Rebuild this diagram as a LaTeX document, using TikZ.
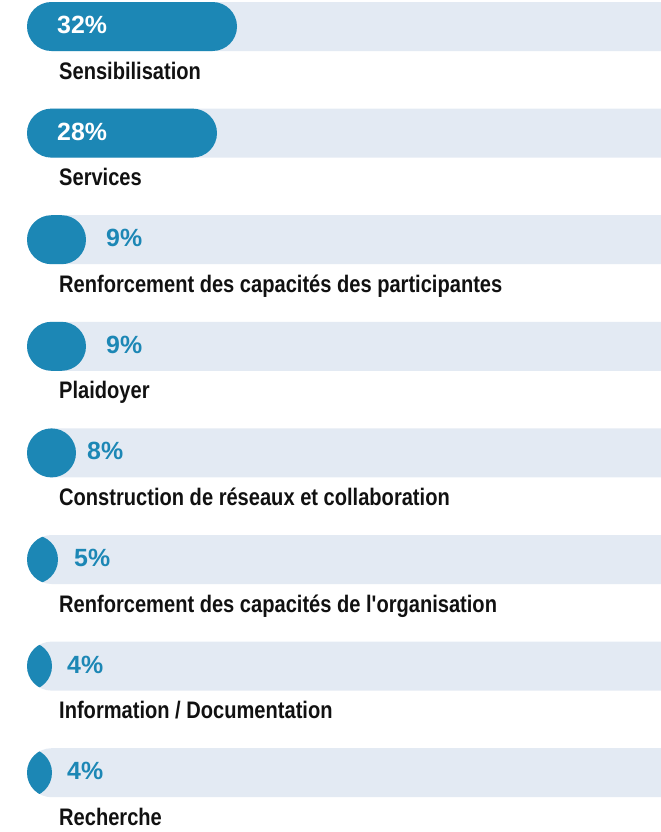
\documentclass[tikz,border=0pt]{standalone}
\usepackage{fontspec}
\setmainfont{Liberation Sans}
\newfontfamily\labelfont[FakeStretch=0.84]{Liberation Sans}
\usetikzlibrary{positioning}
\definecolor{barblue}{HTML}{1C87B5}
\definecolor{trackgrey}{HTML}{E3EAF3}
\definecolor{labelink}{HTML}{111111}

\begin{document}
\begin{tikzpicture}[x=1bp, y=-1bp,
        track/.style={fill=trackgrey, rounded corners=24.5bp},
        fillbar/.style={fill=barblue, rounded corners=24.5bp},
        pctin/.style={anchor=base west, inner sep=0pt, text=white, font=\bfseries\fontsize{25}{25}\selectfont},
        pctout/.style={pctin, text=barblue},
        caption/.style={anchor=base west, inner sep=0pt, text=labelink, font=\labelfont\bfseries\fontsize{24}{24}\selectfont}]

        \useasboundingbox (0,0) rectangle (661,832);

        % Barres : rang / fin de barre / valeur / position du texte / style / libellé
        \foreach \i/\xend/\pct/\txtx/\where/\name in {
                0/237/32\%/57/in/{Sensibilisation},
                1/217/28\%/57/in/{Services},
                2/86/9\%/106/out/{Renforcement des capacités des participantes},
                3/86/9\%/106/out/{Plaidoyer},
                4/76/8\%/87/out/{Construction de réseaux et collaboration},
                5/58/5\%/74/out/{Renforcement des capacités de l'organisation},
                6/52/4\%/67/out/{Information / Documentation},
                7/52/4\%/67/out/{Recherche}} {
            \pgfmathsetmacro\ytop{2+106.6*\i}
            \pgfmathsetmacro\ybot{\ytop+49}
            \pgfmathsetmacro\xstart{min(27,\xend-50)}

            % Fond et barre
            \fill[track] (27,\ytop) rectangle (720,\ybot);
            \begin{scope}
                \clip[rounded corners=24.5bp] (27,\ytop) rectangle (720,\ybot);
                \fill[fillbar] (\xstart,\ytop) rectangle (\xend,\ybot);
            \end{scope}

            % Textes
            \node[pct\where] (pct\i) at (\txtx,\ytop+31.5) {\pct};
            \node[caption] (cap\i) at (59,\ytop+77) {\name};
        }
\end{tikzpicture}
\end{document}
